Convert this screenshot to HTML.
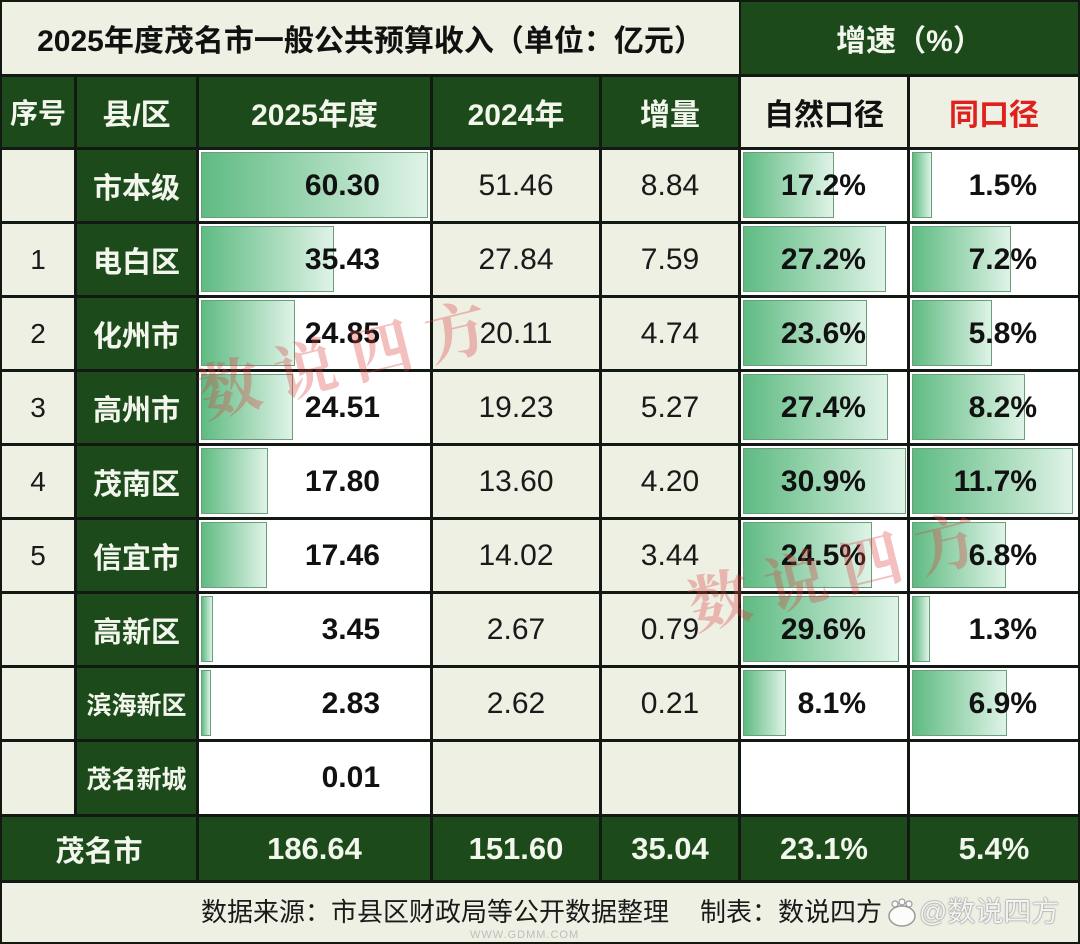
<!DOCTYPE html>
<html><head><meta charset="utf-8"><style>
body{margin:0;width:1080px;height:944px;overflow:hidden;background:#121812;position:relative;font-family:"Liberation Sans","Noto Sans CJK SC",sans-serif}
.c{position:absolute;display:flex;align-items:center;justify-content:center;box-sizing:border-box;white-space:nowrap}
.lt{background:#eef0e4;color:#1a1a1a;font-size:30px}
.dk{background:#1c4a1b;color:#f3f6ec;font-weight:bold}
.wh{background:#fff}
.nm{font-size:29px}
.sm{font-size:25px}
.hd{font-size:30px}
.br{justify-content:flex-end;font-weight:bold;color:#111;font-size:30px}
.br span{position:relative;z-index:2}
.bar{position:absolute;left:2px;top:2px;bottom:3px;background:linear-gradient(to right,#5fbb82,#dff3e7);border:1px solid #6a9f7a;box-sizing:border-box;z-index:1}
.tt{font-size:30px;font-weight:bold}
.wm{position:absolute;font-family:"Noto Serif CJK SC","Liberation Serif",serif;font-weight:bold;font-size:62px;letter-spacing:16px;color:rgba(220,60,60,0.33);white-space:nowrap;z-index:10;transform:translate(-50%,-50%) rotate(-14deg)}
.ft{position:absolute;font-size:26px;color:#1a1a1a;white-space:nowrap;top:897px;line-height:30px}
</style></head><body>

<!-- title row -->
<div class="c lt tt" style="top:2px;left:2px;width:737px;height:72px;color:#111">2025年度茂名市一般公共预算收入（单位：亿元）</div>
<div class="c dk tt" style="top:2px;left:741px;width:337px;height:72px">增速（%）</div>

<!-- header row -->
<div class="c dk hd" style="top:77px;left:2px;width:72px;height:70px;font-size:28px">序号</div>
<div class="c dk hd" style="top:77px;left:77px;width:119px;height:70px">县/区</div>
<div class="c dk hd" style="top:77px;left:199px;width:231px;height:70px">2025年度</div>
<div class="c dk hd" style="top:77px;left:433px;width:166px;height:70px">2024年</div>
<div class="c dk hd" style="top:77px;left:602px;width:136px;height:70px">增量</div>
<div class="c lt hd" style="top:77px;left:741px;width:166px;height:70px;font-weight:bold;color:#111">自然口径</div>
<div class="c lt hd" style="top:77px;left:910px;width:168px;height:70px;font-weight:bold;color:#e0201e">同口径</div>

<!-- row 0 -->
<div class="c lt" style="top:150px;left:2px;width:72px;height:71px"></div>
<div class="c dk nm" style="top:150px;left:77px;width:119px;height:71px">市本级</div>
<div class="c wh br" style="top:150px;left:199px;width:231px;height:71px;padding-right:50px"><i class="bar" style="width:227px"></i><span>60.30</span></div>
<div class="c lt" style="top:150px;left:433px;width:166px;height:71px">51.46</div>
<div class="c lt" style="top:150px;left:602px;width:136px;height:71px">8.84</div>
<div class="c wh br" style="top:150px;left:741px;width:166px;height:71px;padding-right:41px"><i class="bar" style="width:91px"></i><span>17.2%</span></div>
<div class="c wh br" style="top:150px;left:910px;width:168px;height:71px;padding-right:41px"><i class="bar" style="width:20px"></i><span>1.5%</span></div>

<!-- row 1 -->
<div class="c lt" style="top:224px;left:2px;width:72px;height:71px;font-size:28px">1</div>
<div class="c dk nm" style="top:224px;left:77px;width:119px;height:71px">电白区</div>
<div class="c wh br" style="top:224px;left:199px;width:231px;height:71px;padding-right:50px"><i class="bar" style="width:133px"></i><span>35.43</span></div>
<div class="c lt" style="top:224px;left:433px;width:166px;height:71px">27.84</div>
<div class="c lt" style="top:224px;left:602px;width:136px;height:71px">7.59</div>
<div class="c wh br" style="top:224px;left:741px;width:166px;height:71px;padding-right:41px"><i class="bar" style="width:143px"></i><span>27.2%</span></div>
<div class="c wh br" style="top:224px;left:910px;width:168px;height:71px;padding-right:41px"><i class="bar" style="width:99px"></i><span>7.2%</span></div>

<!-- row 2 -->
<div class="c lt" style="top:298px;left:2px;width:72px;height:71px;font-size:28px">2</div>
<div class="c dk nm" style="top:298px;left:77px;width:119px;height:71px">化州市</div>
<div class="c wh br" style="top:298px;left:199px;width:231px;height:71px;padding-right:50px"><i class="bar" style="width:94px"></i><span>24.85</span></div>
<div class="c lt" style="top:298px;left:433px;width:166px;height:71px">20.11</div>
<div class="c lt" style="top:298px;left:602px;width:136px;height:71px">4.74</div>
<div class="c wh br" style="top:298px;left:741px;width:166px;height:71px;padding-right:41px"><i class="bar" style="width:124px"></i><span>23.6%</span></div>
<div class="c wh br" style="top:298px;left:910px;width:168px;height:71px;padding-right:41px"><i class="bar" style="width:80px"></i><span>5.8%</span></div>

<!-- row 3 -->
<div class="c lt" style="top:372px;left:2px;width:72px;height:71px;font-size:28px">3</div>
<div class="c dk nm" style="top:372px;left:77px;width:119px;height:71px">高州市</div>
<div class="c wh br" style="top:372px;left:199px;width:231px;height:71px;padding-right:50px"><i class="bar" style="width:92px"></i><span>24.51</span></div>
<div class="c lt" style="top:372px;left:433px;width:166px;height:71px">19.23</div>
<div class="c lt" style="top:372px;left:602px;width:136px;height:71px">5.27</div>
<div class="c wh br" style="top:372px;left:741px;width:166px;height:71px;padding-right:41px"><i class="bar" style="width:145px"></i><span>27.4%</span></div>
<div class="c wh br" style="top:372px;left:910px;width:168px;height:71px;padding-right:41px"><i class="bar" style="width:113px"></i><span>8.2%</span></div>

<!-- row 4 -->
<div class="c lt" style="top:446px;left:2px;width:72px;height:71px;font-size:28px">4</div>
<div class="c dk nm" style="top:446px;left:77px;width:119px;height:71px">茂南区</div>
<div class="c wh br" style="top:446px;left:199px;width:231px;height:71px;padding-right:50px"><i class="bar" style="width:67px"></i><span>17.80</span></div>
<div class="c lt" style="top:446px;left:433px;width:166px;height:71px">13.60</div>
<div class="c lt" style="top:446px;left:602px;width:136px;height:71px">4.20</div>
<div class="c wh br" style="top:446px;left:741px;width:166px;height:71px;padding-right:41px"><i class="bar" style="width:163px"></i><span>30.9%</span></div>
<div class="c wh br" style="top:446px;left:910px;width:168px;height:71px;padding-right:41px"><i class="bar" style="width:161px"></i><span>11.7%</span></div>

<!-- row 5 -->
<div class="c lt" style="top:520px;left:2px;width:72px;height:71px;font-size:28px">5</div>
<div class="c dk nm" style="top:520px;left:77px;width:119px;height:71px">信宜市</div>
<div class="c wh br" style="top:520px;left:199px;width:231px;height:71px;padding-right:50px"><i class="bar" style="width:66px"></i><span>17.46</span></div>
<div class="c lt" style="top:520px;left:433px;width:166px;height:71px">14.02</div>
<div class="c lt" style="top:520px;left:602px;width:136px;height:71px">3.44</div>
<div class="c wh br" style="top:520px;left:741px;width:166px;height:71px;padding-right:41px"><i class="bar" style="width:129px"></i><span>24.5%</span></div>
<div class="c wh br" style="top:520px;left:910px;width:168px;height:71px;padding-right:41px"><i class="bar" style="width:94px"></i><span>6.8%</span></div>

<!-- row 6 -->
<div class="c lt" style="top:594px;left:2px;width:72px;height:71px"></div>
<div class="c dk nm" style="top:594px;left:77px;width:119px;height:71px">高新区</div>
<div class="c wh br" style="top:594px;left:199px;width:231px;height:71px;padding-right:50px"><i class="bar" style="width:12px"></i><span>3.45</span></div>
<div class="c lt" style="top:594px;left:433px;width:166px;height:71px">2.67</div>
<div class="c lt" style="top:594px;left:602px;width:136px;height:71px">0.79</div>
<div class="c wh br" style="top:594px;left:741px;width:166px;height:71px;padding-right:41px"><i class="bar" style="width:156px"></i><span>29.6%</span></div>
<div class="c wh br" style="top:594px;left:910px;width:168px;height:71px;padding-right:41px"><i class="bar" style="width:18px"></i><span>1.3%</span></div>

<!-- row 7 -->
<div class="c lt" style="top:668px;left:2px;width:72px;height:71px"></div>
<div class="c dk sm" style="top:668px;left:77px;width:119px;height:71px">滨海新区</div>
<div class="c wh br" style="top:668px;left:199px;width:231px;height:71px;padding-right:50px"><i class="bar" style="width:10px"></i><span>2.83</span></div>
<div class="c lt" style="top:668px;left:433px;width:166px;height:71px">2.62</div>
<div class="c lt" style="top:668px;left:602px;width:136px;height:71px">0.21</div>
<div class="c wh br" style="top:668px;left:741px;width:166px;height:71px;padding-right:41px"><i class="bar" style="width:43px"></i><span>8.1%</span></div>
<div class="c wh br" style="top:668px;left:910px;width:168px;height:71px;padding-right:41px"><i class="bar" style="width:95px"></i><span>6.9%</span></div>

<!-- row 8 -->
<div class="c lt" style="top:742px;left:2px;width:72px;height:72px"></div>
<div class="c dk sm" style="top:742px;left:77px;width:119px;height:72px">茂名新城</div>
<div class="c wh br" style="top:742px;left:199px;width:231px;height:72px;padding-right:50px"><span>0.01</span></div>
<div class="c lt" style="top:742px;left:433px;width:166px;height:72px"></div>
<div class="c lt" style="top:742px;left:602px;width:136px;height:72px"></div>
<div class="c wh" style="top:742px;left:741px;width:166px;height:72px"></div>
<div class="c wh" style="top:742px;left:910px;width:168px;height:72px"></div>

<!-- total row -->
<div class="c dk nm" style="top:817px;left:2px;width:194px;height:63px">茂名市</div>
<div class="c dk" style="top:817px;left:199px;width:231px;height:63px;font-size:31px">186.64</div>
<div class="c dk" style="top:817px;left:433px;width:166px;height:63px;font-size:31px">151.60</div>
<div class="c dk" style="top:817px;left:602px;width:136px;height:63px;font-size:31px">35.04</div>
<div class="c dk" style="top:817px;left:741px;width:166px;height:63px;font-size:31px">23.1%</div>
<div class="c dk" style="top:817px;left:910px;width:168px;height:63px;font-size:31px">5.4%</div>

<!-- footer -->
<div class="c lt" style="top:883px;left:2px;width:1076px;height:59px"></div>
<div class="ft" style="left:201px">数据来源：市县区财政局等公开数据整理</div>
<div class="ft" style="left:700px">制表：数说四方</div>
<svg style="position:absolute;left:886px;top:898px" width="32" height="30" viewBox="0 0 32 30">
<ellipse cx="16" cy="18" rx="13" ry="10" fill="rgba(255,255,255,0.8)" stroke="#999" stroke-width="1.5"/>
<circle cx="9" cy="6" r="3" fill="rgba(255,255,255,0.8)" stroke="#999" stroke-width="1.2"/>
<circle cx="16" cy="4" r="3" fill="rgba(255,255,255,0.8)" stroke="#999" stroke-width="1.2"/>
<circle cx="23" cy="6" r="3" fill="rgba(255,255,255,0.8)" stroke="#999" stroke-width="1.2"/>
</svg>
<div style="position:absolute;left:919px;top:895px;font-size:28px;line-height:34px;color:rgba(255,255,255,0.9);text-shadow:0 0 1px #888,0 0 1px #888,0 0 2px #aaa;white-space:nowrap">@数说四方</div>
<div style="position:absolute;left:470px;top:929px;font-size:11px;color:rgba(150,150,150,0.55);letter-spacing:1px;white-space:nowrap">WWW.GDMM.COM</div>

<!-- watermarks -->
<div class="wm" style="left:350px;top:354px">数说四方</div>
<div class="wm" style="left:840px;top:566px">数说四方</div>

</body></html>
